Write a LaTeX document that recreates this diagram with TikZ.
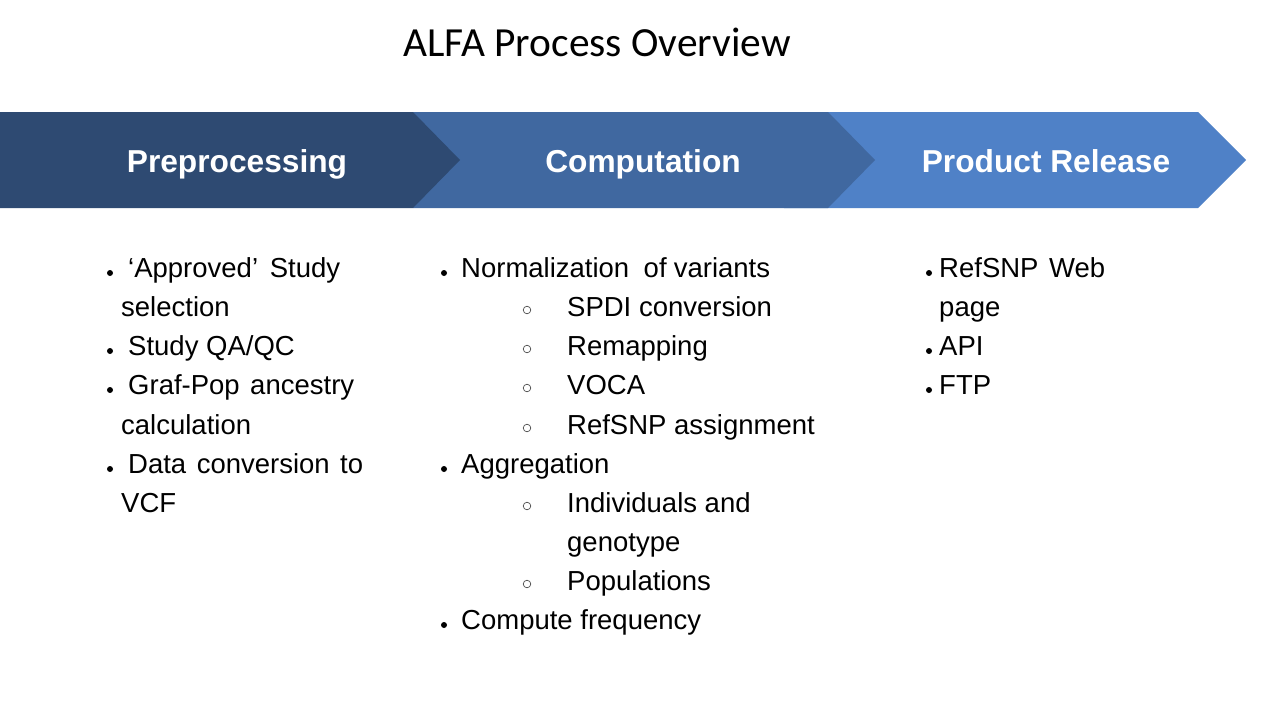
\documentclass[tikz,border=0pt]{standalone}
\usepackage{fontspec}
\setmainfont{Liberation Sans}
\newfontfamily\titlefont{Carlito}
\usepackage{tikz}
\usetikzlibrary{backgrounds}

\definecolor{stepdark}{RGB}{46,74,114}
\definecolor{stepmid}{RGB}{64,104,160}
\definecolor{steplight}{RGB}{79,129,199}

\newcommand{\bodyfont}{\fontsize{27.5}{32}\selectfont}
\newcommand{\headfont}{\fontsize{31.7}{36}\selectfont\bfseries}

\begin{document}
\begin{tikzpicture}[x=1pt, y=-1pt]
	\tikzstyle{head} = [text=white, inner sep=0pt, anchor=base, font=\headfont]
	\tikzstyle{item} = [inner sep=0pt, anchor=base west, font=\bodyfont]
	\tikzstyle{dot} = [fill=black]
	\tikzstyle{ring} = [draw=black!80, line width=0.6pt]
	\useasboundingbox[fill=white] (0,0) rectangle (1280,720);
	% title
	\node[inner sep=0pt, anchor=base, font=\titlefont\fontsize{41.4}{46}\selectfont](title) at (597,56){ALFA Process Overview};
	% the three steps, back to front
	\fill[steplight] (784,112) -- (1198,112) -- (1246,160) -- (1198,208) -- (784,208) -- cycle;
	\fill[stepmid] (413,112) -- (828,112) -- (875,160) -- (828,208) -- (413,208) -- cycle;
	\fill[stepdark] (0,112) -- (413,112) -- (460,160) -- (413,208) -- (0,208) -- cycle;
	\node[head](prep) at (237,172){Preprocessing};
	\node[head](comp) at (643,172){Computation};
	\node[head](release) at (1046,172){Product Release};
	% preprocessing
	\fill[dot] (110,273) circle (3pt);
	\node[item](approved) at (128,277){\makebox[212pt][s]{‘Approved’ Study}};
	\node[item](selection) at (121,316){selection};
	\fill[dot] (110,351) circle (3pt);
	\node[item](qaqc) at (128,355){Study QA/QC};
	\fill[dot] (110,390) circle (3pt);
	\node[item](grafpop) at (128,394){\makebox[226pt][s]{Graf-Pop ancestry}};
	\node[item](calc) at (121,434){calculation};
	\fill[dot] (110,469) circle (3pt);
	\node[item](dataconv) at (128,473){\makebox[235pt][s]{Data conversion to}};
	\node[item](vcf) at (121,512){VCF};
	% computation
	\fill[dot] (444,273) circle (3pt);
	\node[item](norm) at (461,277){\makebox[309pt][s]{Normalization\ \ of variants}};
	\draw[ring] (527,310) circle (3.8pt);
	\node[item](spdi) at (567,316){SPDI conversion};
	\draw[ring] (527,349) circle (3.8pt);
	\node[item](remap) at (567,355){Remapping};
	\draw[ring] (527,388) circle (3.8pt);
	\node[item](voca) at (567,394){VOCA};
	\draw[ring] (527,428) circle (3.8pt);
	\node[item](assign) at (567,434){RefSNP assignment};
	\fill[dot] (444,469) circle (3pt);
	\node[item](aggr) at (461,473){Aggregation};
	\draw[ring] (527,506) circle (3.8pt);
	\node[item](indiv) at (567,512){Individuals and};
	\node[item](genotype) at (567,551){genotype};
	\draw[ring] (527,584) circle (3.8pt);
	\node[item](pops) at (567,590){Populations};
	\fill[dot] (444,625) circle (3pt);
	\node[item](freq) at (461,629){Compute frequency};
	% product release
	\fill[dot] (929,273) circle (3pt);
	\node[item](webpage) at (939,277){\makebox[166pt][s]{RefSNP Web}};
	\node[item](page) at (939,316){page};
	\fill[dot] (929,351) circle (3pt);
	\node[item](api) at (939,355){API};
	\fill[dot] (929,390) circle (3pt);
	\node[item](ftp) at (939,394){FTP};
\end{tikzpicture}
\end{document}
